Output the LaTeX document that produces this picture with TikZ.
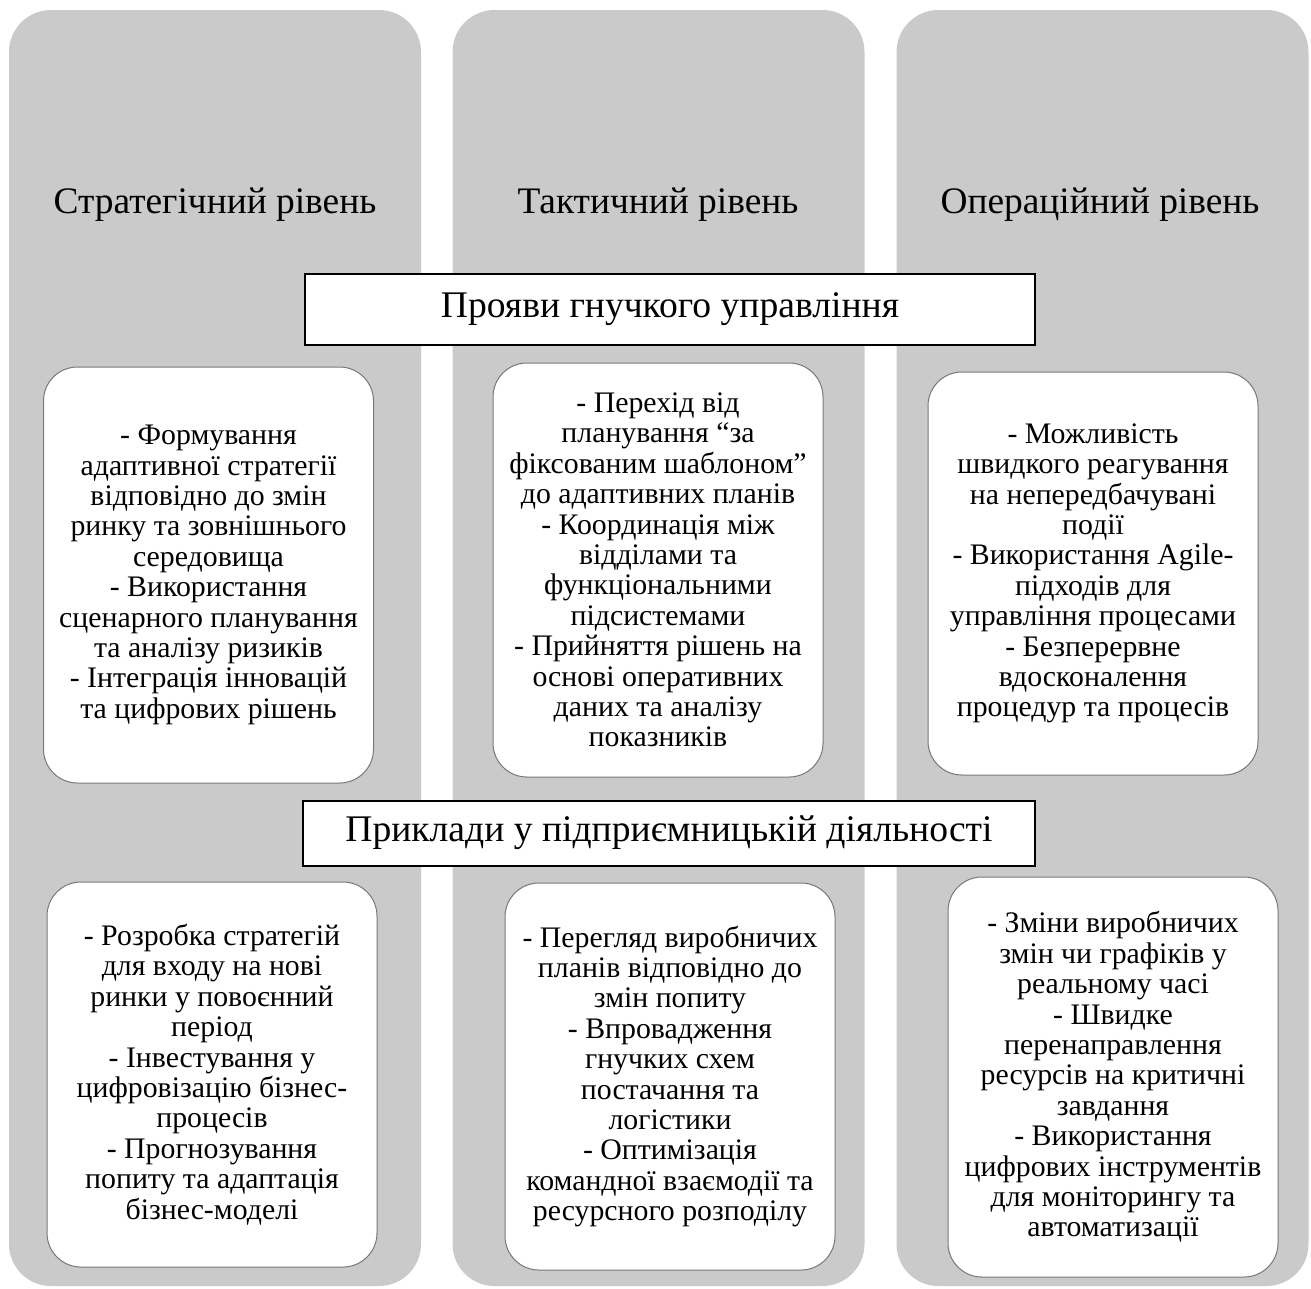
\documentclass[tikz,border=0pt]{standalone}
\usepackage{fontspec}
\IfFontExistsTF{LiberationSerif-Regular.ttf}
  {\setmainfont{LiberationSerif}[Extension=.ttf, UprightFont=*-Regular,
     BoldFont=*-Bold, ItalicFont=*-Italic, BoldItalicFont=*-BoldItalic]}
  {\setmainfont{Liberation Serif}}
\begin{document}
\begin{tikzpicture}[x=1pt,y=-1pt,
  column/.style={fill=colgray, draw=none, rounded corners=42pt, inner sep=0pt,
    minimum width=412pt, minimum height=1276pt},
  leveltitle/.style={font=\fontsize{37.4}{43}\selectfont, inner sep=0pt},
  banner/.style={draw=black, line width=2pt, fill=white, inner sep=0pt,
    font=\fontsize{37.6}{43}\selectfont},
  itembox/.style={draw=boxgray, line width=1pt, fill=white, rounded corners=34pt,
    inner sep=0pt, minimum width=330pt, align=center,
    font=\fontsize{29.8}{30.4}\selectfont}
]
\definecolor{colgray}{RGB}{202,202,202}
\definecolor{boxgray}{RGB}{120,120,120}
\useasboundingbox (0,0) rectangle (1311,1288);

% three level columns
\node[column] (c1) at (215,648) {};
\node[column] (c2) at (658.5,648) {};
\node[column] (c3) at (1102.5,648) {};

% level titles
\node[leveltitle] (t1) at (215,205) {Стратегічний рівень};
\node[leveltitle] (t2) at (658,205) {Тактичний рівень};
\node[leveltitle] (t3) at (1100,205) {Операційний рівень};

% cross-column banners
\node[banner, minimum width=730pt, minimum height=71pt] (b1) at (670,309) {Прояви гнучкого управління};
\node[banner, minimum width=732pt, minimum height=65pt] (b2) at (669,833) {Приклади у підприємницькій діяльності};

% manifestations of agile management
\node[itembox, minimum height=416pt] (m1) at (208.5,575) {- Формування\\адаптивної стратегії\\відповідно до змін\\ринку та зовнішнього\\середовища\\- Використання\\сценарного планування\\та аналізу ризиків\\- Інтеграція інновацій\\та цифрових рішень};
\node[itembox, minimum height=414pt] (m2) at (658,570) {- Перехід від\\планування “за\\фіксованим шаблоном”\\до адаптивних планів\\- Координація між\\відділами та\\функціональними\\підсистемами\\- Прийняття рішень на\\основі оперативних\\даних та аналізу\\показників};
\node[itembox, minimum height=403pt] (m3) at (1093,573.5) {- Можливість\\швидкого реагування\\на непередбачувані\\події\\- Використання Agile-\\підходів для\\управління процесами\\- Безперервне\\вдосконалення\\процедур та процесів};

% business examples
\node[itembox, minimum height=385pt] (e1) at (212,1074.5) {- Розробка стратегій\\для входу на нові\\ринки у повоєнний\\період\\- Інвестування у\\цифровізацію бізнес-\\процесів\\- Прогнозування\\попиту та адаптація\\бізнес-моделі};
\node[itembox, minimum height=387pt] (e2) at (670,1076.5) {- Перегляд виробничих\\планів відповідно до\\змін попиту\\- Впровадження\\гнучких схем\\постачання та\\логістики\\- Оптимізація\\командної взаємодії та\\ресурсного розподілу};
\node[itembox, minimum height=400pt] (e3) at (1113,1077) {- Зміни виробничих\\змін чи графіків у\\реальному часі\\- Швидке\\перенаправлення\\ресурсів на критичні\\завдання\\- Використання\\цифрових інструментів\\для моніторингу та\\автоматизації};
\end{tikzpicture}
\end{document}
